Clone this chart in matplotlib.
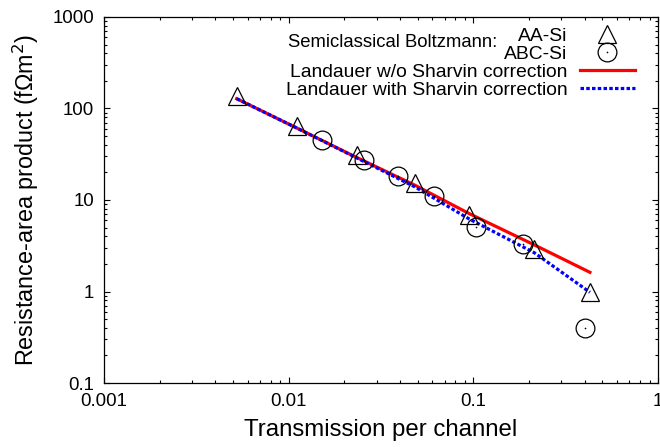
import matplotlib
matplotlib.use('Agg')
import matplotlib.pyplot as plt
from matplotlib.ticker import LogLocator, FuncFormatter, NullFormatter

plt.rcParams['font.family'] = ['Liberation Sans', 'DejaVu Sans']

# Semiclassical Boltzmann points
t_aa = [0.00523, 0.0111, 0.0234, 0.0483, 0.095, 0.214, 0.428]
ra_aa = [136, 64, 31, 15.4, 6.8, 2.9, 1.0]
t_abc = [0.0151, 0.0256, 0.0392, 0.0612, 0.104, 0.185, 0.402]
ra_abc = [45, 27.3, 18.2, 11.0, 5.1, 3.3, 0.40]

# Landauer curves (evaluated at the AA-Si transmissions)
ra_no_sharvin = [128, 61, 29.1, 14.5, 7.1, 3.23, 1.62]
ra_sharvin = [128, 61, 28.8, 13.9, 6.2, 2.65, 0.98]

x_ticks = [0.001, 0.01, 0.1, 1]
y_ticks = [0.1, 1, 10, 100, 1000]

fig = plt.figure(figsize=(6.6, 4.47), dpi=100)
ax = fig.add_axes([104/660, 64/447, 554/660, 366/447])

tri, = ax.plot(t_aa, ra_aa, ls='none', marker='^', ms=12.5, mfc='none',
               mec='black', mew=0.9, zorder=4)
circ, = ax.plot(t_abc, ra_abc, ls='none', marker='o', ms=13.5, mfc='none',
                mec='black', mew=0.9, zorder=4)
dot, = ax.plot(t_abc, ra_abc, ls='none', marker='o', ms=1.2, mfc='black',
               mec='black', mew=0, zorder=4)
red, = ax.plot(t_aa, ra_no_sharvin, color='#ff0000', lw=2.3, zorder=2)
blue, = ax.plot(t_aa, ra_sharvin, color='#0000ff', lw=2.3,
                ls=(0, (1.1, 0.7)), zorder=3)

ax.set_xscale('log')
ax.set_yscale('log')
ax.set_xlim(0.001, 1)
ax.set_ylim(0.1, 1000)

fmt = FuncFormatter(lambda v, p: '{:g}'.format(v))
ax.xaxis.set_minor_locator(LogLocator(base=10, subs=range(2, 10), numticks=20))
ax.yaxis.set_minor_locator(LogLocator(base=10, subs=range(2, 10), numticks=20))
ax.set_xticks(x_ticks)
ax.set_yticks(y_ticks)
ax.xaxis.set_major_formatter(fmt)
ax.yaxis.set_major_formatter(fmt)
ax.xaxis.set_minor_formatter(NullFormatter())
ax.yaxis.set_minor_formatter(NullFormatter())

ax.tick_params(which='both', direction='in', top=True, right=True, width=0.8)
ax.tick_params(which='major', length=4.5, labelsize=13.4, pad=7)
ax.tick_params(which='minor', length=2.5)
for s in ax.spines.values():
    s.set_linewidth(0.9)

ax.set_xlabel('Transmission per channel', fontsize=17.3, labelpad=6.5)
ax.set_ylabel('Resistance-area product (f\u03a9m$^2$)', fontsize=16.8, labelpad=8)

leg = ax.legend([tri, (circ, dot), red, blue],
                ['AA-Si', 'ABC-Si', 'Landauer w/o Sharvin correction',
                 'Landauer with Sharvin correction'],
                loc='upper right', bbox_to_anchor=(0.958, 0.972),
                frameon=False, markerfirst=False, fontsize=13.85,
                handlelength=2.85, handletextpad=0.65, labelspacing=0.03,
                borderpad=0, borderaxespad=0)
ax.text(0.710, 0.929, 'Semiclassical Boltzmann:', transform=ax.transAxes,
        ha='right', va='center', fontsize=13.3)

fig.savefig('out.png', dpi=100)
